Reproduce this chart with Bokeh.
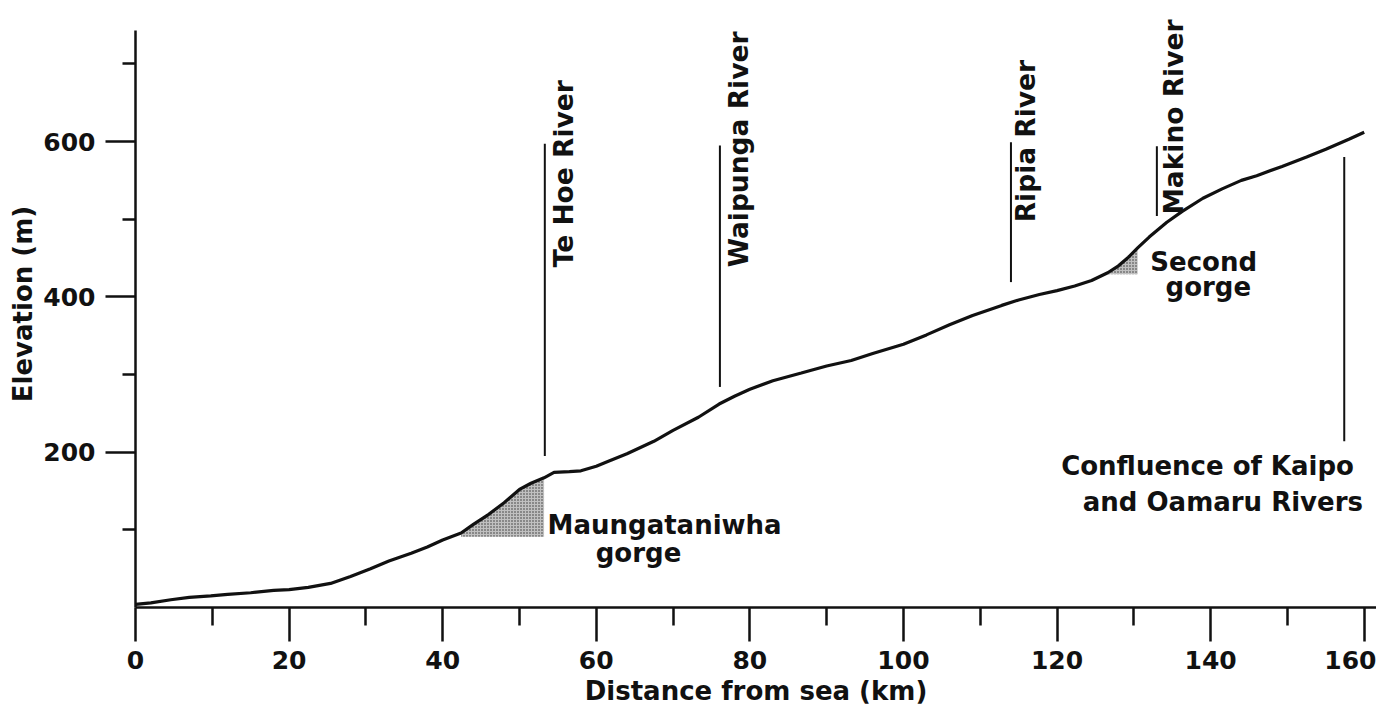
import math
from bokeh.plotting import figure
from bokeh.models import Range1d, FixedTicker, ColumnDataSource, LabelSet
from bokeh.core.properties import value
from bokeh.embed import file_html
from bokeh.resources import INLINE

# ---- data ----
dist_km = [0, 2, 4.6, 7, 9.8, 12, 15, 18, 20, 22.5, 25.4, 28, 30.6, 33, 35.9, 38, 40,
           42.4, 44, 46, 48, 50, 51.5, 53.2,
           54.5, 56.5, 58, 60, 61.5, 64, 67.5, 70, 73.3, 76, 78, 80, 83, 86.7, 90, 93.2,
           96, 100, 103, 106, 109, 112.8, 115, 117.7, 120, 122.3, 124.5,
           126.6, 128, 129.3, 130.5,
           132, 134.3, 136.3, 139, 141.5, 144, 146, 149.3, 152.5, 155, 158, 160]
elev_m = [4, 6, 10, 13, 15, 17, 19, 22, 23, 26, 31, 40, 50, 60, 70, 78, 87,
          96, 107, 120, 135, 152, 160, 167,
          174, 175, 176, 182, 188, 198, 214, 228, 245, 262, 272, 281, 292, 302, 311, 318,
          327, 339, 351, 364, 376, 389, 396, 403, 408, 414, 421,
          431, 440, 451, 463,
          477, 496, 510, 527, 539, 550, 556, 568, 580, 590, 603, 612]

gorge_names = ["Maungataniwha gorge", "Second gorge"]
gorge_start_km = [42.4, 126.6]
gorge_end_km = [53.2, 130.5]
gorge_base_m = [91, 429]

river_names = ["Te Hoe River", "Waipunga River", "Ripia River", "Makino River",
               "Confluence of Kaipo and Oamaru Rivers"]
river_km = [53.3, 76.1, 114.0, 133.0, 157.4]
river_top_m = [597, 595, 599, 594, 580]
river_bottom_m = [195, 284, 419, 504, 214]

x_major = [0, 20, 40, 60, 80, 100, 120, 140, 160]
x_minor = [10, 30, 50, 70, 90, 110, 130, 150]
y_major = [200, 400, 600]
y_minor = [100, 300, 500, 700]
y_axis_top = 743

FONT = "DejaVu Sans"
INK = "#111111"

p = figure(width=1376, height=712, x_range=Range1d(0, 161.6), y_range=Range1d(0, 781.6),
           output_backend="svg", toolbar_location=None,
           min_border_left=135, min_border_right=0, min_border_top=0, min_border_bottom=105)
p.outline_line_color = None
p.grid.visible = False
p.background_fill_color = "white"
p.border_fill_color = "white"

for ax in (p.xaxis[0], p.yaxis[0]):
    ax.axis_line_width = 2.5
    ax.axis_line_color = INK
    ax.major_tick_line_width = 2.5
    ax.minor_tick_line_width = 2.5
    ax.major_tick_line_color = INK
    ax.minor_tick_line_color = INK
    ax.major_tick_in = 0
    ax.minor_tick_in = 0
    ax.major_label_text_font = FONT
    ax.major_label_text_font_style = "bold"
    ax.major_label_text_font_size = "25px"
    ax.major_label_text_color = INK
    ax.axis_label_text_font = FONT
    ax.axis_label_text_font_style = "bold"
    ax.axis_label_text_font_size = "26px"
    ax.axis_label_text_color = INK

p.xaxis.ticker = FixedTicker(ticks=x_major, minor_ticks=x_minor)
p.xaxis.major_tick_out = 34
p.xaxis.minor_tick_out = 18
p.xaxis.major_label_standoff = 9
p.xaxis.axis_label = "Distance from sea (km)"
p.xaxis.axis_label_standoff = 4

p.yaxis.ticker = FixedTicker(ticks=y_major, minor_ticks=y_minor)
p.yaxis.bounds = (0, y_axis_top)
p.yaxis.major_tick_out = 30
p.yaxis.minor_tick_out = 13
p.yaxis.major_label_standoff = 10
p.yaxis.axis_label = "Elevation (m)"
p.yaxis.axis_label_standoff = 2

# gorges (stippled)
for s, e, b in zip(gorge_start_km, gorge_end_km, gorge_base_m):
    xs = [d for d in dist_km if s <= d <= e]
    ys = [el for d, el in zip(dist_km, elev_m) if s <= d <= e]
    p.patch(xs + [e, s], ys + [b, b], fill_color="#c0c0c0", line_color=None,
            hatch_pattern="dot", hatch_color="#333333", hatch_scale=3, hatch_weight=1)

# profile
p.line(dist_km, elev_m, line_color=INK, line_width=3.2)

# river lines
p.segment(x0=river_km, y0=river_bottom_m, x1=river_km, y1=river_top_m,
          line_color=INK, line_width=2)

# rotated river labels
rot_src = ColumnDataSource(dict(x=[55.7, 78.5, 115.9, 135.2], y=[438, 438, 496, 506],
                                text=river_names[:4]))
p.add_layout(LabelSet(x="x", y="y", text="text", source=rot_src, angle=math.pi / 2,
                      text_font=value(FONT), text_font_style="bold", text_font_size="26.5px",
                      text_align="left", text_baseline="middle", text_color=INK))

# horizontal labels
h_src = ColumnDataSource(dict(
    x=[68.9, 65.5, 139.1, 139.7, 139.6, 141.6],
    y=[94, 58, 433, 401, 171, 124],
    text=["Maungataniwha", "gorge", "Second", "gorge", "Confluence of Kaipo", "and Oamaru Rivers"]))
p.add_layout(LabelSet(x="x", y="y", text="text", source=h_src,
                      text_font=value(FONT), text_font_style="bold", text_font_size="26px",
                      text_align="center", text_baseline="alphabetic", text_color=INK))

open("out.html", "w").write(file_html(p, INLINE))
